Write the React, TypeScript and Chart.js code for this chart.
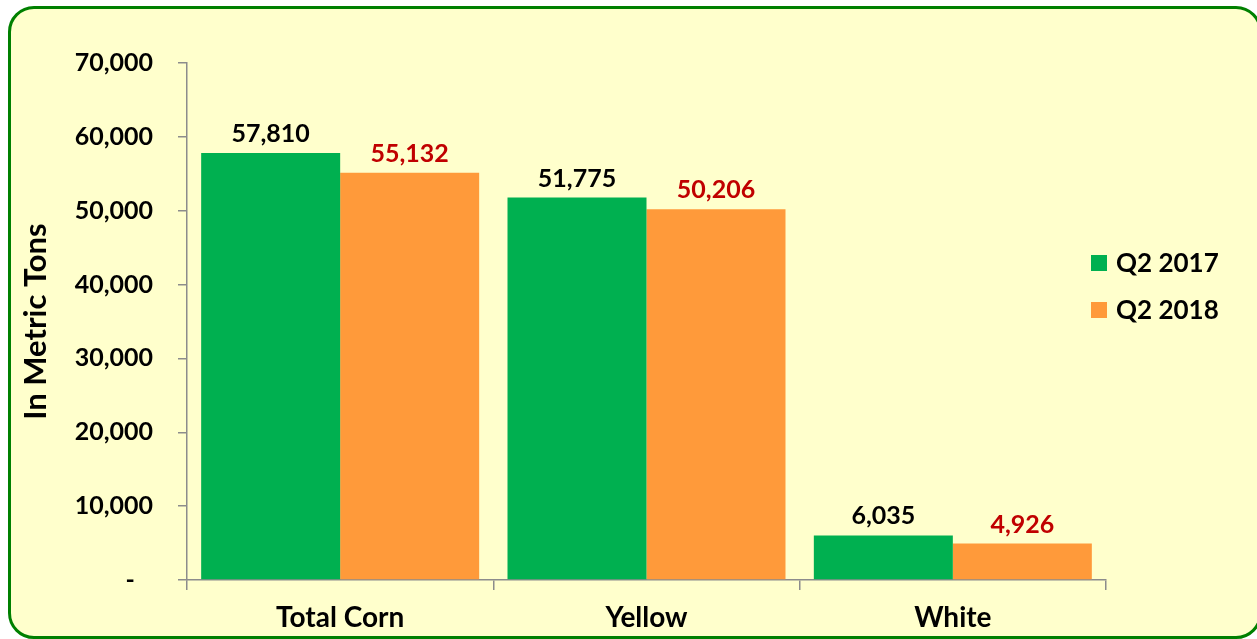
import React, { useEffect, useRef } from "react";
import { Chart, registerables } from "chart.js";

Chart.register(...registerables);

const categories = ["Total Corn", "Yellow", "White"];
const seriesNames = ["Q2 2017", "Q2 2018"];
const q2017 = [57810, 51775, 6035];
const q2018 = [55132, 50206, 4926];
const yTicks = [0, 10000, 20000, 30000, 40000, 50000, 60000, 70000];

const GREEN = "#00B050";
const ORANGE = "#FF9A3A";
const RED = "#C00000";
const FONT = "Lato, 'Open Sans', sans-serif";

const fmt = (v: number) => v.toLocaleString("en-US");

const labelPlugin = {
  id: "barLabels",
  afterDatasetsDraw(chart: any) {
    const ctx = chart.ctx;
    ctx.save();
    ctx.font = `bold 25px ${FONT}`;
    ctx.textAlign = "center";
    ctx.textBaseline = "alphabetic";
    chart.data.datasets.forEach((ds: any, di: number) => {
      const meta = chart.getDatasetMeta(di);
      meta.data.forEach((bar: any, i: number) => {
        ctx.fillStyle = di === 0 ? "#000000" : RED;
        ctx.fillText(fmt(ds.data[i]), bar.x, bar.y - 11);
      });
    });
    ctx.restore();
  },
};

const legendPlugin = {
  id: "customLegend",
  afterDraw(chart: any) {
    const ctx = chart.ctx;
    ctx.save();
    ctx.font = `bold 26px ${FONT}`;
    ctx.textAlign = "left";
    ctx.textBaseline = "middle";
    const x0 = chart.width - 166;
    const y0 = 263;
    chart.data.datasets.forEach((ds: any, di: number) => {
      const cy = y0 + di * 47;
      ctx.fillStyle = ds.backgroundColor;
      ctx.fillRect(x0, cy - 8, 16, 16);
      ctx.fillStyle = "#000000";
      ctx.fillText(ds.label, x0 + 25, cy + 1);
    });
    ctx.restore();
  },
};

export default function App() {
  const ref = useRef<HTMLCanvasElement>(null);
  useEffect(() => {
    if (!ref.current) return;
    const chart = new Chart(ref.current, {
      type: "bar",
      data: {
        labels: categories,
        datasets: [
          { label: seriesNames[0], data: q2017, backgroundColor: GREEN },
          { label: seriesNames[1], data: q2018, backgroundColor: ORANGE },
        ],
      },
      options: {
        responsive: false,
        animation: false,
        layout: { padding: { left: 14, right: 151, top: 63, bottom: 0 } },
        datasets: {
          bar: { categoryPercentage: 0.9075, barPercentage: 1.0 },
        },
        plugins: {
          legend: { display: false },
          tooltip: { enabled: false },
        },
        scales: {
          x: {
            type: "category",
            offset: true,
            grid: {
              offset: true,
              drawOnChartArea: false,
              tickLength: 10,
              color: "#8C8C8C",
              lineWidth: 1.5,
            },
            border: { display: true, color: "#8C8C8C", width: 1.5 },
            ticks: {
              color: "#000000",
              font: { family: FONT, size: 28, weight: "bold" },
              padding: 11,
              maxRotation: 0,
            },
            afterFit: (s: any) => {
              s.height = 59;
            },
          },
          y: {
            min: 0,
            max: 70000,
            afterBuildTicks: (s: any) => {
              s.ticks = yTicks.map((v) => ({ value: v }));
            },
            grid: {
              drawOnChartArea: false,
              tickLength: 9,
              color: "#8C8C8C",
              lineWidth: 1.5,
            },
            border: { display: true, color: "#8C8C8C", width: 1.5 },
            ticks: {
              color: "#000000",
              font: { family: FONT, size: 25, weight: "bold" },
              padding: 25,
              callback: (v: any) => (Number(v) === 0 ? "-   " : fmt(Number(v))),
            },
            title: {
              display: true,
              text: "In Metric Tons",
              color: "#000000",
              font: { family: FONT, size: 31, weight: "bold" },
              padding: { top: 3, bottom: 0 },
            },
            afterFit: (s: any) => {
              s.width = 173;
            },
          },
        },
      },
      plugins: [labelPlugin, legendPlugin],
    } as any);
    return () => chart.destroy();
  }, []);

  return (
    <div
      style={{
        position: "fixed",
        left: 0,
        top: 0,
        width: 1257,
        height: 639,
        overflow: "hidden",
        background: "#FFFFFF",
      }}
    >
      <div
        style={{
          position: "absolute",
          left: 8,
          top: 6,
          width: 1254,
          height: 633,
          boxSizing: "border-box",
          border: "3px solid #008000",
          borderRadius: 26,
          background: "#FFFFCC",
        }}
      />
      <canvas
        ref={ref}
        width={1257}
        height={639}
        style={{ position: "absolute", left: 0, top: 0, width: 1257, height: 639 }}
      />
    </div>
  );
}
